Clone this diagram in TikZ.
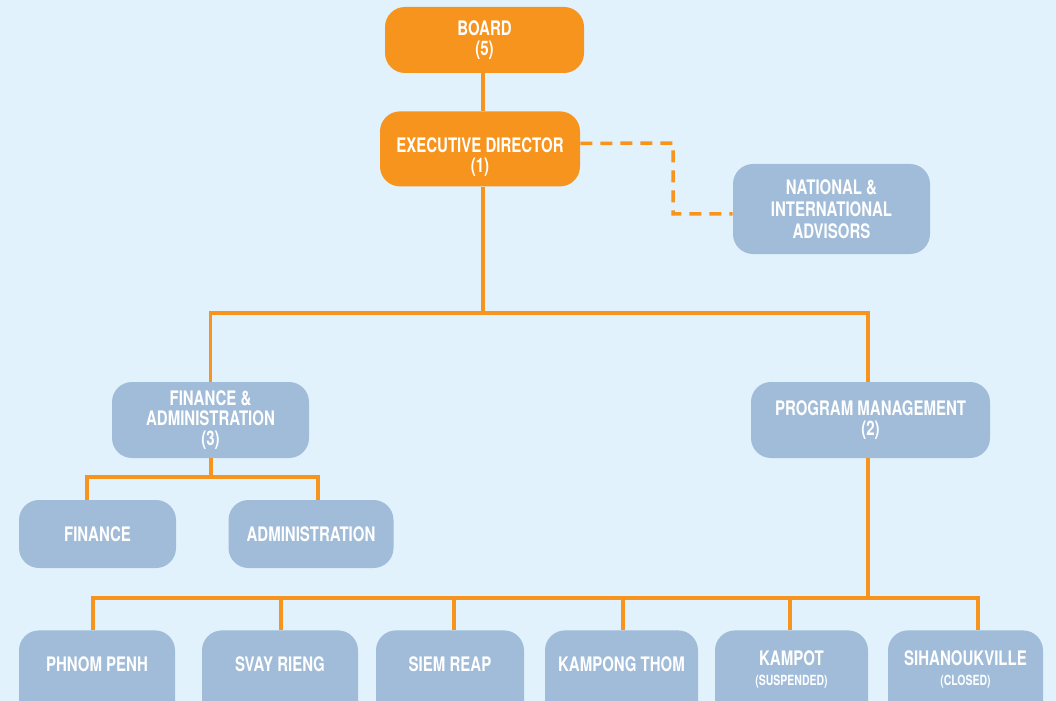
\documentclass[tikz,border=0pt]{standalone}
\usepackage{fontspec}
\setmainfont{TeX Gyre Heros}[FakeStretch=0.75]
\usepackage{tikz}
\usetikzlibrary{positioning,calc}
\definecolor{boardorange}{HTML}{F7941D}
\definecolor{unitblue}{HTML}{A0BCD8}
\definecolor{pagebg}{HTML}{E1F2FC}
\tikzset{
  box/.style={rounded corners=10pt, align=center, text=white, inner sep=2pt,
    font=\fontsize{10}{10}\bfseries},
  lead/.style={box, fill=boardorange},
  unit/.style={box, fill=unitblue},
  leaf/.style={unit, anchor=north, inner ysep=0pt, text height=20.5pt, text depth=28pt},
  leaftwo/.style={leaf, text height=17.5pt, text depth=31pt},
  link/.style={draw=boardorange, line width=1.75pt},
  dashlink/.style={link, dash pattern=on 6pt off 4pt},
}
\newcommand{\subnote}[1]{{\fontsize{7}{8}\selectfont #1}}
\newcommand{\stacked}[1]{\begin{tabular}[t]{@{}c@{}}#1\end{tabular}}

\begin{document}
\begin{tikzpicture}[x=0.5pt, y=-0.5pt]
    \useasboundingbox (0,0) rectangle (1056,701);
    \fill[pagebg] (0,0) rectangle (1056,701);
    \clip (0,0) rectangle (1056,701);
    % top of the chart
    \node[lead, minimum width=99.5pt, minimum height=33pt] (board) at (484.5,40) {BOARD\\(5)};
    \node[lead, anchor=north, inner ysep=0pt, text height=20.5pt, text depth=17pt, minimum width=100pt] (exec) at (480,111) {\stacked{EXECUTIVE DIRECTOR\\(1)}};
    \node[unit, minimum width=98.5pt, minimum height=45pt, font=\fontsize{10}{11}\bfseries] (adv) at (831.5,209) {NATIONAL \&\\INTERNATIONAL\\ADVISORS};
    \node[unit, minimum width=98.5pt, minimum height=38pt] (fa) at (210.5,420) {FINANCE \&\\ADMINISTRATION\\(3)};
    \node[unit, minimum width=119.5pt, minimum height=38pt] (pm) at (870.5,420) {PROGRAM MANAGEMENT\\(2)};
    \node[unit, minimum width=78.5pt, minimum height=34pt] (fin) at (97.5,534) {FINANCE};
    \node[unit, minimum width=82.5pt, minimum height=34pt] (adm) at (311,534) {ADMINISTRATION};
    % provinces
    \node[leaf, minimum width=78pt] (pp) at (97,630) {PHNOM PENH};
    \node[leaf, minimum width=78pt] (sr) at (280,630) {SVAY RIENG};
    \node[leaf, minimum width=74pt] (siem) at (450,630) {SIEM REAP};
    \node[leaf, minimum width=76.5pt] (kt) at (621.5,630) {KAMPONG THOM};
    \node[leaftwo, minimum width=76.5pt] (kampot) at (791.5,630) {\stacked{KAMPOT\\\subnote{(SUSPENDED)}}};
    \node[leaftwo, minimum width=77.5pt] (sih) at (965.5,630) {\stacked{SIHANOUKVILLE\\\subnote{(CLOSED)}}};
    \coordinate (topbus) at (483,313);
    \coordinate (fabus) at (211,477);
    \coordinate (leafbus) at (868,598);
    \coordinate (advturn) at (673,143);
    \draw[link] (board.south -| topbus) -- (exec.north -| topbus);
    \draw[link] (exec.south -| topbus) -- (topbus) -| (fa.north);
    \draw[link] (topbus) -| (pm.north -| leafbus);
    \draw[dashlink] ($(exec.east)+(0,-5.5)$) -- (advturn) |- ($(adv.west)+(0,5)$);
    \draw[link] (fa.south -| fabus) -- (fabus) -| ($(fin.north)+(-10.5,0)$);
    \draw[link] (fabus) -| ($(adm.north)+(7,0)$);
    \draw[link] (pm.south -| leafbus) -- (leafbus);
    \foreach \n/\dx in {pp/-4, sr/1, siem/4, kt/1.5, kampot/-1.5, sih/12.5}
      \draw[link] (leafbus) -| ($(\n.north)+(\dx,0)$);
\end{tikzpicture}
\end{document}
